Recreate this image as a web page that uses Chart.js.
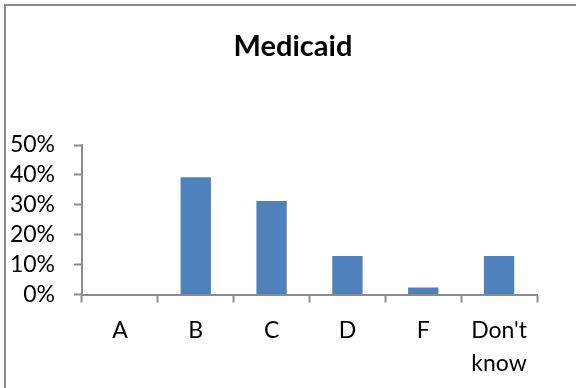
<!DOCTYPE html>
<html>
<head>
<meta charset="utf-8">
<script src="https://cdn.jsdelivr.net/npm/chart.js@4.4.1/dist/chart.umd.min.js"></script>
<style>
  html, body { margin: 0; padding: 0; background: #ffffff; }
  #wrap { position: relative; width: 576px; height: 388px; }
</style>
</head>
<body>
<div id="wrap"><canvas id="chart" width="576" height="388"></canvas></div>
<script>
// Survey responses: share of respondents per grade for Medicaid
const categories = ['A', 'B', 'C', 'D', 'F', ["Don't", 'know']];
const shares = [0, 39.2, 31.3, 12.9, 2.3, 12.9];
const yTicks = [0, 10, 20, 30, 40, 50];
const chartTitle = 'Medicaid';

const axisGrey = '#8c8c8c';
const labelFont = { family: 'Lato', size: 23 };

// Frame and title drawn on the canvas
const framePlugin = {
  id: 'frame',
  beforeDraw(chart) {
    const ctx = chart.ctx;
    ctx.save();
    ctx.fillStyle = '#ffffff';
    ctx.fillRect(0, 0, chart.width, chart.height);
    ctx.strokeStyle = '#8a8a8a';
    ctx.lineWidth = 2;
    ctx.beginPath();
    ctx.moveTo(5, chart.height + 2);
    ctx.lineTo(5, 5);
    ctx.lineTo(chart.width + 2, 5);
    ctx.stroke();
    ctx.restore();
  },
  afterDraw(chart) {
    const ctx = chart.ctx;
    ctx.save();
    ctx.font = 'bold 29px Lato';
    ctx.fillStyle = '#000000';
    ctx.textAlign = 'center';
    ctx.textBaseline = 'alphabetic';
    ctx.fillText(chartTitle, chart.width / 2 + 5, 56);
    ctx.restore();
  }
};

new Chart(document.getElementById('chart'), {
  type: 'bar',
  data: {
    labels: categories,
    datasets: [{
      data: shares,
      backgroundColor: '#4f81bd',
      borderWidth: 0,
      barPercentage: 0.4,
      categoryPercentage: 1.0
    }]
  },
  options: {
    responsive: false,
    animation: false,
    devicePixelRatio: 1,
    layout: { padding: { top: 145, right: 39, left: 0, bottom: 0 } },
    plugins: {
      legend: { display: false },
      tooltip: { enabled: false },
      title: { display: false }
    },
    scales: {
      x: {
        grid: {
          display: true,
          drawOnChartArea: false,
          drawTicks: true,
          tickLength: 8,
          tickWidth: 2,
          tickColor: axisGrey,
          offset: true
        },
        border: { display: true, color: axisGrey, width: 2 },
        ticks: {
          color: '#000000',
          font: Object.assign({ lineHeight: 1.43 }, labelFont),
          padding: 12,
          maxRotation: 0,
          autoSkip: false
        },
        afterFit(scale) { scale.height = 93.5; }
      },
      y: {
        min: 0,
        max: 50,
        afterBuildTicks(scale) { scale.ticks = yTicks.map(v => ({ value: v })); },
        grid: {
          display: true,
          drawOnChartArea: false,
          drawTicks: true,
          tickLength: 8,
          tickWidth: 2,
          tickColor: axisGrey
        },
        border: { display: true, color: axisGrey, width: 2 },
        ticks: {
          color: '#000000',
          font: labelFont,
          padding: 19,
          autoSkip: false,
          callback: v => v + '%'
        },
        afterFit(scale) { scale.width = 82; }
      }
    }
  },
  plugins: [framePlugin]
});
</script>
</body>
</html>
